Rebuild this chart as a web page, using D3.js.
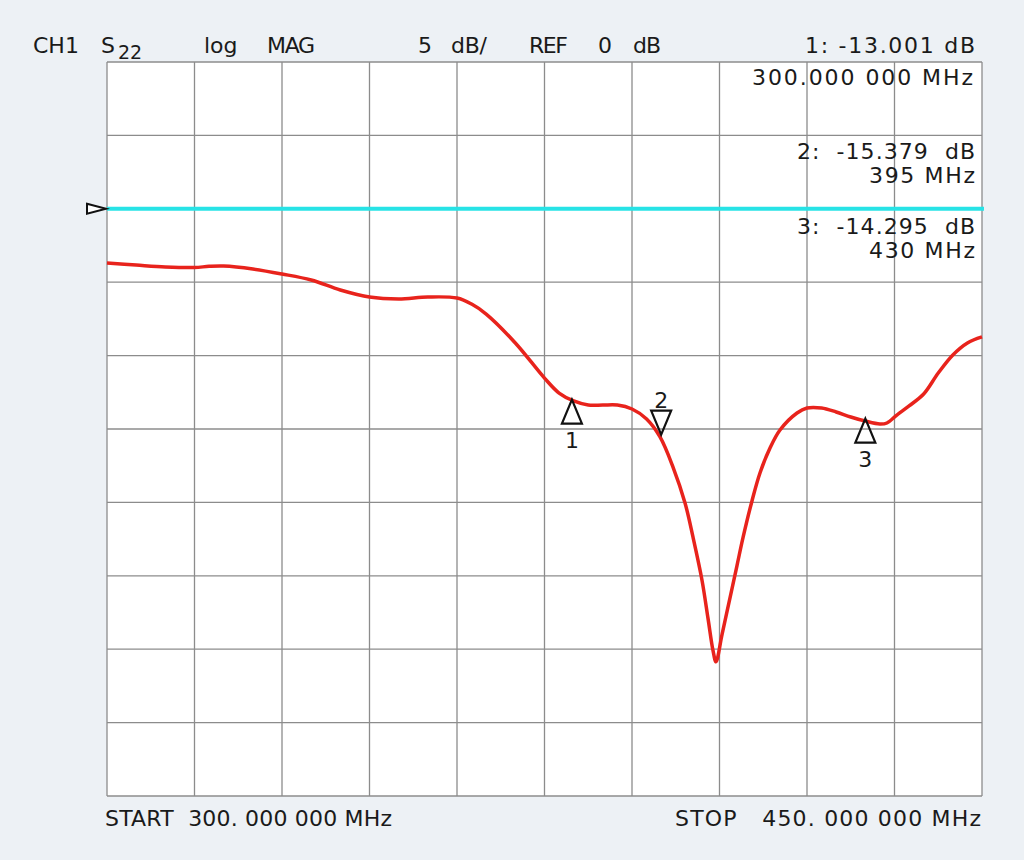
<!DOCTYPE html>
<html>
<head>
<meta charset="utf-8">
<script src="https://cdn.jsdelivr.net/npm/d3@7"></script>
<style>
  body { margin: 0; background: #edf1f5; }
  svg text { font-family: "DejaVu Sans", Roboto, sans-serif; fill: #1a1a1a; white-space: pre; }
</style>
</head>
<body>
<div id="chart"></div>
<script>
// trace S22, frequency in MHz / magnitude in dB
var freqs = [300, 305, 310, 315, 317.5, 320, 325, 330, 335, 340, 345, 350, 355, 360, 362.5, 365,
  370, 375, 377.5, 380, 382.5, 385, 387.5, 390, 392.5, 394.8, 397.03, 399.09, 400.46, 402.0, 403.03,
  403.89, 404.4, 405.43, 406.8, 408.0, 409.03, 410.57, 411.94, 413.66, 415.37, 418.29, 420,
  422.5, 425, 427.5, 430, 432.5, 433.7, 435.4, 437.5, 440, 442.5, 445, 447.5, 450];
var magDb = [-3.69, -3.83, -3.96, -4.0, -3.92, -3.90, -4.10, -4.44, -4.85, -5.53, -6.01, -6.14, -6.01, -6.08, -6.49, -7.17,
  -9.14, -11.53, -12.55, -13.09, -13.37, -13.37, -13.37, -13.64, -14.32, -15.54, -17.59, -20.04, -22.37, -25.3, -27.9,
  -30.1, -30.86, -29.0, -26.5, -24.3, -22.4, -19.9, -18.0, -16.3, -15.07, -13.91, -13.57,
  -13.57, -13.84, -14.18, -14.46, -14.66, -14.59, -14.05, -13.43, -12.62, -11.19, -9.96, -9.14, -8.73];

var markerIds = [1, 2, 3];
var markerFreqs = [379.7, 395, 430];
var markerDb = [-13.001, -15.379, -14.295];
var markerDir = ["up", "down", "up"];

var refDb = 0;
var xTicks = d3.range(300, 450.1, 15);
var yTicks = d3.range(10, -40.1, -5);

var margin = {top: 62, right: 42, bottom: 64, left: 107};
var svg_Width = 1024, svg_Height = 860;
var chart_Width = svg_Width - margin.left - margin.right;
var chart_Height = svg_Height - margin.top - margin.bottom;

var svg = d3.select("#chart").append("svg")
  .attr("width", svg_Width).attr("height", svg_Height);

var g = svg.append("g")
  .attr("transform", "translate(" + margin.left + "," + margin.top + ")");

var x = d3.scaleLinear().domain([300, 450]).range([0, chart_Width]);
var y = d3.scaleLinear().domain([10, -40]).range([0, chart_Height]);

g.append("rect").attr("width", chart_Width).attr("height", chart_Height).attr("fill", "#ffffff");

g.selectAll(".vgrid").data(xTicks).enter().append("line")
  .attr("x1", d => x(d)).attr("x2", d => x(d))
  .attr("y1", 0).attr("y2", chart_Height)
  .attr("stroke", "#8c8c8c").attr("stroke-width", 1.3);

g.selectAll(".hgrid").data(yTicks).enter().append("line")
  .attr("x1", 0).attr("x2", chart_Width)
  .attr("y1", d => y(d)).attr("y2", d => y(d))
  .attr("stroke", "#8c8c8c").attr("stroke-width", 1.3);

// reference line
g.append("line")
  .attr("x1", 0).attr("x2", chart_Width + 2)
  .attr("y1", y(refDb)).attr("y2", y(refDb))
  .attr("stroke", "#27e3e6").attr("stroke-width", 4);

// ref arrow at left
g.append("path")
  .attr("d", "M" + (-20) + "," + (y(refDb) - 5) + "L-1," + y(refDb) + "L-20," + (y(refDb) + 5) + "Z")
  .attr("fill", "#ffffff").attr("stroke", "#111").attr("stroke-width", 2);

var trace = freqs.map((f, i) => [f, magDb[i]]);
var line = d3.line().x(d => x(d[0])).y(d => y(d[1])).curve(d3.curveCatmullRom.alpha(0.5));

g.append("path").datum(trace)
  .attr("d", line)
  .attr("fill", "none").attr("stroke", "#e8231c").attr("stroke-width", 3.5)
  .attr("stroke-linejoin", "round");

// markers
markerIds.forEach(function(id, i) {
  var mx = x(markerFreqs[i]), my = y(markerDb[i]);
  var h = 24, w = 10;
  var sgn = markerDir[i] == "up" ? 1 : -1;
  g.append("path")
    .attr("d", "M" + mx + "," + my + "L" + (mx - w) + "," + (my + sgn * h) + "L" + (mx + w) + "," + (my + sgn * h) + "Z")
    .attr("fill", "none").attr("stroke", "#111").attr("stroke-width", 2.2);
  g.append("text")
    .attr("x", mx).attr("y", sgn > 0 ? my + h + 24 : my - h - 3)
    .attr("text-anchor", "middle").attr("font-size", 22)
    .text(id);
});

// header texts (x = left edge, w = width as in the instrument screen)
function label(txt, xp, yp, w, size) {
  var t = svg.append("text").attr("x", xp).attr("y", yp)
    .attr("font-size", size || 22).text(txt);
  if (w) t.attr("textLength", w).attr("lengthAdjust", "spacing");
  return t;
}
label("CH1", 33, 53);
label("S", 101, 53);
label("22", 118, 59, 24, 19);
label("log", 204, 53);
label("MAG", 267, 53, 48);
label("5", 418, 53);
label("dB/", 451, 53, 36);
label("REF", 529, 53, 39);
label("0", 598, 53);
label("dB", 633, 53, 28);
label("1: -13.001 dB", 805, 53, 170);
label("300.000 000 MHz", 752, 85, 221);
label("2:  -15.379  dB", 797, 159, 178);
label("395 MHz", 869, 183, 106);
label("3:  -14.295  dB", 797, 234, 178);
label("430 MHz", 869, 258, 106);
label("START  300. 000 000 MHz", 105, 826, 287);
label("STOP   450. 000 000 MHz", 675, 826, 306);
</script>
</body>
</html>
